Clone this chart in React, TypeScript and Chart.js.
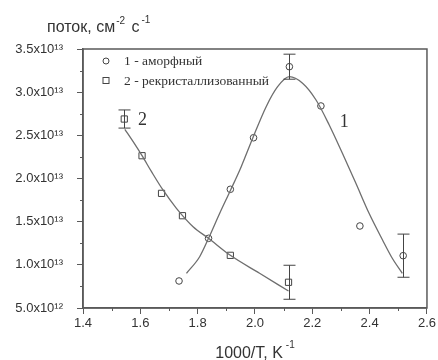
import React, { useEffect, useRef } from 'react';
import { Chart, registerables } from 'chart.js';
Chart.register(...registerables);

// Series 1: amorphous (circles)
const amorphX = [1.735, 1.838, 1.914, 1.995, 2.12, 2.23, 2.366, 2.517];
const amorphY = [8.13e12, 1.307e13, 1.875e13, 2.472e13, 3.295e13, 2.84e13, 1.45e13, 1.106e13];
const amorphErr = [0, 0, 0, 0, 1.45e12, 0, 0, 2.5e12];

// Series 2: recrystallized (squares)
const recrystX = [1.544, 1.606, 1.674, 1.747, 1.914, 2.117];
const recrystY = [2.689e13, 2.264e13, 1.828e13, 1.569e13, 1.11e13, 7.98e12];
const recrystErr = [1.05e12, 0, 0, 0, 0, 1.97e12];

// Fitted curves
const fit1X = [1.761, 1.807, 1.838, 1.877, 1.915, 1.952, 1.992, 2.039, 2.079, 2.12, 2.166, 2.213, 2.259, 2.305, 2.352, 2.398, 2.445, 2.479, 2.514];
const fit1Y = [9.02e12, 1.094e13, 1.307e13, 1.597e13, 1.867e13, 2.137e13, 2.466e13, 2.832e13, 3.063e13, 3.179e13, 3.103e13, 2.909e13, 2.62e13, 2.292e13, 1.944e13, 1.597e13, 1.288e13, 1.076e13, 9.02e12];
const fit2X = [1.546, 1.575, 1.606, 1.639, 1.679, 1.726, 1.784, 1.838, 1.914, 2.016, 2.117];
const fit2Y = [2.57e13, 2.426e13, 2.264e13, 2.079e13, 1.867e13, 1.655e13, 1.442e13, 1.307e13, 1.11e13, 9.02e12, 6.97e12];

const xTickLabels = ['1.4', '1.6', '1.8', '2.0', '2.2', '2.4', '2.6'];
const yTickLabels = ['5.0x10¹²', '1.0x10¹³', '1.5x10¹³', '2.0x10¹³', '2.5x10¹³', '3.0x10¹³', '3.5x10¹³'];
const xMinor = [1.5, 1.7, 1.9, 2.1, 2.3, 2.5];
const yMinor = [7.5e12, 1.25e13, 1.75e13, 2.25e13, 2.75e13, 3.25e13];

const legendLabels = ['1 - аморфный', '2 - рекристаллизованный'];
const yTitle = ['поток, см', '-2', ' с', '-1'];
const xTitle = ['1000/T, K', '-1'];

const AXIS = '#5a5a5a';
const INK = '#333';
const CURVE = '#6e6e6e';

const pts = (xs: number[], ys: number[]) => xs.map((x, i) => ({ x, y: ys[i] }));

const decor = {
  id: 'decor',
  afterDatasetsDraw(chart: any) {
    const { ctx } = chart;
    const xs = chart.scales.x, ys = chart.scales.y;
    ctx.save();
    ctx.strokeStyle = '#444';
    ctx.lineWidth = 1;
    const bars = (X: number[], Y: number[], E: number[]) => {
      X.forEach((x, i) => {
        if (!E[i]) return;
        const px = Math.round(xs.getPixelForValue(x)) + 0.5;
        const t = ys.getPixelForValue(Y[i] + E[i]);
        const b = ys.getPixelForValue(Y[i] - E[i]);
        ctx.beginPath();
        ctx.moveTo(px, t); ctx.lineTo(px, b);
        ctx.moveTo(px - 6, t); ctx.lineTo(px + 6, t);
        ctx.moveTo(px - 6, b); ctx.lineTo(px + 6, b);
        ctx.stroke();
      });
    };
    bars(amorphX, amorphY, amorphErr);
    bars(recrystX, recrystY, recrystErr);
    ctx.restore();
  },
  afterDraw(chart: any) {
    const { ctx, chartArea: a } = chart;
    const xs = chart.scales.x, ys = chart.scales.y;
    ctx.save();
    // frame
    ctx.strokeStyle = AXIS;
    ctx.lineWidth = 1.5;
    ctx.strokeRect(a.left, a.top, a.right - a.left, a.bottom - a.top);
    // minor ticks
    ctx.lineWidth = 1;
    ctx.beginPath();
    xMinor.forEach(v => {
      const p = Math.round(xs.getPixelForValue(v)) + 0.5;
      ctx.moveTo(p, a.bottom); ctx.lineTo(p, a.bottom + 3);
    });
    yMinor.forEach(v => {
      const p = Math.round(ys.getPixelForValue(v)) + 0.5;
      ctx.moveTo(a.left, p); ctx.lineTo(a.left - 3, p);
    });
    ctx.stroke();
    // legend
    ctx.strokeStyle = '#444';
    ctx.lineWidth = 1;
    ctx.beginPath();
    ctx.arc(106, 61, 3, 0, Math.PI * 2);
    ctx.stroke();
    ctx.strokeRect(103, 77.5, 6, 6);
    ctx.fillStyle = INK;
    ctx.font = '13.5px "Liberation Serif"';
    ctx.textBaseline = 'middle';
    ctx.textAlign = 'left';
    ctx.fillText(legendLabels[0], 124, 61);
    ctx.fillText(legendLabels[1], 124, 81);
    // curve labels
    ctx.font = '18px "Liberation Serif"';
    ctx.textAlign = 'center';
    ctx.fillText('1', xs.getPixelForValue(2.311), ys.getPixelForValue(2.65e13));
    ctx.fillText('2', xs.getPixelForValue(1.608), ys.getPixelForValue(2.68e13));
    // y title
    ctx.textAlign = 'left';
    ctx.textBaseline = 'alphabetic';
    let x = 47;
    const big = '16px "Liberation Sans"';
    const small = '10px "Liberation Sans"';
    ctx.font = big; ctx.fillText(yTitle[0], x, 32); x += ctx.measureText(yTitle[0]).width + 1;
    ctx.font = small; ctx.fillText(yTitle[1], x, 24); x += ctx.measureText(yTitle[1]).width + 2;
    ctx.font = big; ctx.fillText(yTitle[2], x, 32); x += ctx.measureText(yTitle[2]).width + 2;
    ctx.font = small; ctx.fillText(yTitle[3], x, 23);
    // x title
    ctx.font = big;
    const w1 = ctx.measureText(xTitle[0]).width;
    ctx.font = small;
    const w2 = ctx.measureText(xTitle[1]).width;
    let xx = (a.left + a.right) / 2 - (w1 + w2 + 3) / 2;
    ctx.font = big; ctx.fillText(xTitle[0], xx, 358); xx += w1 + 3;
    ctx.font = small; ctx.fillText(xTitle[1], xx, 348);
    ctx.restore();
  }
};

export default function App() {
  const ref = useRef<HTMLCanvasElement>(null);
  useEffect(() => {
    document.body.style.margin = '0';
    const chart = new Chart(ref.current!, {
      type: 'scatter',
      data: {
        datasets: [
          {
            label: 'fit1', data: pts(fit1X, fit1Y), showLine: true, borderColor: CURVE, borderWidth: 1.3,
            pointRadius: 0, cubicInterpolationMode: 'monotone', fill: false,
          } as any,
          {
            label: 'fit2', data: pts(fit2X, fit2Y), showLine: true, borderColor: CURVE, borderWidth: 1.3,
            pointRadius: 0, cubicInterpolationMode: 'monotone', fill: false,
          } as any,
          {
            label: legendLabels[0], data: pts(amorphX, amorphY), pointStyle: 'circle', pointRadius: 3.3,
            borderColor: '#444', backgroundColor: 'rgba(255,255,255,1)', pointBorderWidth: 1, showLine: false,
          },
          {
            label: legendLabels[1], data: pts(recrystX, recrystY), pointStyle: 'rect', pointRadius: 4.4,
            borderColor: '#444', backgroundColor: 'rgba(255,255,255,1)', pointBorderWidth: 1, showLine: false,
          },
        ],
      },
      options: {
        responsive: false,
        animation: false,
        devicePixelRatio: 1,
        layout: { padding: { top: 49, right: 10, left: 0, bottom: 0 } },
        plugins: { legend: { display: false }, tooltip: { enabled: false } },
        scales: {
          x: {
            type: 'linear', min: 1.4, max: 2.6,
            afterBuildTicks: (s: any) => { s.ticks = xTickLabels.map(l => ({ value: parseFloat(l) })); },
            afterFit: (s: any) => { s.height = 52; },
            ticks: {
              callback: (_v: any, i: number) => xTickLabels[i],
              font: { family: 'Liberation Sans', size: 13 }, color: INK, padding: 2, maxRotation: 0,
            },
            grid: { drawOnChartArea: false, tickLength: 6, tickColor: AXIS },
            border: { color: AXIS, width: 1.5 },
          },
          y: {
            type: 'linear', min: 5e12, max: 3.5e13,
            afterBuildTicks: (s: any) => { s.ticks = yTickLabels.map((_l, i) => ({ value: 5e12 * (i + 1) })); },
            afterFit: (s: any) => { s.width = 83; },
            ticks: {
              callback: (_v: any, i: number) => yTickLabels[i],
              font: { family: 'Liberation Sans', size: 13 }, color: INK, padding: 14,
            },
            grid: { drawOnChartArea: false, tickLength: 6, tickColor: AXIS },
            border: { color: AXIS, width: 1.5 },
          },
        },
      },
      plugins: [decor],
    } as any);
    return () => chart.destroy();
  }, []);
  return (
    <div style={{ position: 'absolute', left: 0, top: 0, width: 438, height: 360, background: '#fff' }}>
      <canvas ref={ref} width={438} height={360} />
    </div>
  );
}
